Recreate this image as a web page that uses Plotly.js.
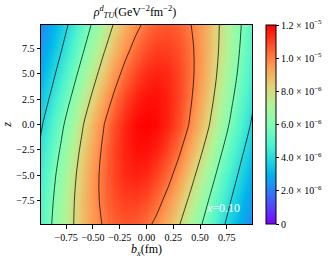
<!DOCTYPE html>
<html>
<head>
<meta charset="utf-8">
<script src="https://cdn.plot.ly/plotly-3.0.1.min.js"></script>
<style>html,body{margin:0;padding:0;background:#fff;}#chart{width:335px;height:261px;}</style>
</head>
<body>
<div id="chart"></div>
<script>
// b_x grid (fm)
const bx = [-1.0,-0.9,-0.8,-0.7,-0.6,-0.5,-0.4,-0.3,-0.2,-0.1,0.0,0.1,0.2,0.3,0.4,0.5,0.6,0.7,0.8,0.9,1.0];
// z grid
const zRows = [-10,-7.5,-5,-2.5,0,2.5,5,7.5,10];
// rho values, in units of 1e-6 GeV^-2 fm^-2, one row per z
const rho_zm10  = [4.90,5.86,6.85,7.82,8.71,9.49,10.09,10.49,10.65,10.56,10.23,9.68,8.94,8.08,7.12,6.14,5.17,4.25,3.41,2.68,2.05];
const rho_zm7_5 = [4.71,5.69,6.72,7.74,8.71,9.58,10.29,10.79,11.06,11.07,10.83,10.35,9.66,8.80,7.84,6.82,5.79,4.81,3.90,3.09,2.39];
const rho_zm5   = [4.45,5.44,6.48,7.54,8.58,9.54,10.35,10.97,11.37,11.50,11.37,10.97,10.35,9.54,8.58,7.54,6.48,5.44,4.45,3.57,2.79];
const rho_zm2_5 = [4.10,5.06,6.11,7.19,8.28,9.31,10.22,10.97,11.49,11.77,11.77,11.49,10.97,10.22,9.31,8.28,7.19,6.11,5.06,4.10,3.25];
const rho_z0    = [3.72,4.65,5.67,6.76,7.87,8.95,9.95,10.80,11.45,11.86,12.00,11.86,11.45,10.80,9.95,8.95,7.87,6.76,5.67,4.65,3.72];
const rho_z2_5  = [3.25,4.10,5.06,6.11,7.19,8.28,9.31,10.22,10.97,11.49,11.77,11.77,11.49,10.97,10.22,9.31,8.28,7.19,6.11,5.06,4.10];
const rho_z5    = [2.79,3.57,4.45,5.44,6.48,7.54,8.58,9.54,10.35,10.97,11.37,11.50,11.37,10.97,10.35,9.54,8.58,7.54,6.48,5.44,4.45];
const rho_z7_5  = [2.39,3.09,3.90,4.81,5.79,6.82,7.84,8.80,9.66,10.35,10.83,11.07,11.06,10.79,10.29,9.58,8.71,7.74,6.72,5.69,4.71];
const rho_z10   = [2.05,2.68,3.41,4.25,5.17,6.14,7.12,8.08,8.94,9.68,10.23,10.56,10.65,10.49,10.09,9.49,8.71,7.82,6.85,5.86,4.90];

const unit = 1e-6;
const cbTickVals = [0,2,4,6,8,10,12];
const cbTickText = ['0','2.0 × 10<sup>−6</sup>','4.0 × 10<sup>−6</sup>','6.0 × 10<sup>−6</sup>','8.0 × 10<sup>−6</sup>','1.0 × 10<sup>−5</sup>','1.2 × 10<sup>−5</sup>'];
const xTickVals = [-0.75,-0.5,-0.25,0,0.25,0.5,0.75];
const yTickVals = [-7.5,-5,-2.5,0,2.5,5,7.5];

const Z = [rho_zm10,rho_zm7_5,rho_zm5,rho_zm2_5,rho_z0,rho_z2_5,rho_z5,rho_z7_5,rho_z10].map(r => r.map(v => v*unit));

// matplotlib "rainbow"
const rainbow = [
  [0.0,'rgb(128,0,255)'],[0.1,'rgb(77,79,252)'],[0.2,'rgb(26,150,243)'],[0.25,'rgb(0,180,236)'],
  [0.3,'rgb(26,206,227)'],[0.4,'rgb(77,243,206)'],[0.5,'rgb(128,255,180)'],[0.6,'rgb(179,243,150)'],
  [0.7,'rgb(230,206,116)'],[0.8,'rgb(255,150,79)'],[0.9,'rgb(255,79,40)'],[1.0,'rgb(255,0,0)']
];

const serif = 'Liberation Serif, Times New Roman, serif';

const heat = {
  type:'heatmap', x: bx, y: zRows, z: Z, zsmooth:'best',
  colorscale: rainbow, zmin: 0, zmax: 12*unit, hoverinfo:'skip',
  colorbar: {
    x: 1.065, xanchor:'left', xpad:0, ypad:0, y:0.5, yanchor:'middle', len:1, lenmode:'fraction',
    thickness: 10, outlinewidth: 1, outlinecolor:'#000',
    tickvals: cbTickVals.map(v=>v*unit), ticktext: cbTickText,
    ticks:'outside', ticklen:3, tickcolor:'#000',
    tickfont:{family:serif, size:10, color:'#000'}
  }
};
const lines = {
  type:'contour', x: bx, y: zRows, z: Z, showscale:false, hoverinfo:'skip',
  contours:{start:4*unit, end:10.1*unit, size:2*unit, coloring:'none'},
  line:{color:'rgba(0,0,0,0.8)', width:0.9, smoothing:1}
};

const layout = {
  width:335, height:261,
  margin:{l:41, r:79, t:25, b:37, pad:0},
  paper_bgcolor:'#fff', plot_bgcolor:'#fff',
  font:{family:serif, size:10, color:'#000'},
  showlegend:false,
  title:{text:'<i>ρ</i><sup><i>d</i></sup><sub><i>TU</i></sub>(GeV<sup>−2</sup>fm<sup>−2</sup>)',
         font:{family:serif, size:12, color:'#000'}, x:0.445, xanchor:'center', xref:'paper',
         y:0.955, yanchor:'middle', yref:'container'},
  xaxis:{range:[-0.985,0.985], tickvals:xTickVals, tickformat:'.2f', ticks:'outside', ticklen:3.5,
         tickcolor:'#000', showline:true, mirror:true, linecolor:'#000', linewidth:1,
         showgrid:false, zeroline:false, tickfont:{family:serif,size:10},
         title:{text:'<i>b</i><sub><i>x</i></sub>(fm)', font:{family:serif,size:12}, standoff:2}},
  yaxis:{range:[-9.85,9.85], tickvals:yTickVals, tickformat:'.1f', ticks:'outside', ticklen:3.5,
         tickcolor:'#000', showline:true, mirror:true, linecolor:'#000', linewidth:1,
         showgrid:false, zeroline:false, tickfont:{family:serif,size:10},
         title:{text:'<i>z</i>', font:{family:serif,size:12}, standoff:12}},
  annotations:[{x:0.716, y:-8.27, xref:'x', yref:'y', text:'<i>x</i>=0.10', showarrow:false,
                font:{family:serif, size:12, color:'#fff'}}]
};

Plotly.newPlot('chart', [heat, lines], layout, {staticPlot:true, displayModeBar:false});
</script>
</body>
</html>
